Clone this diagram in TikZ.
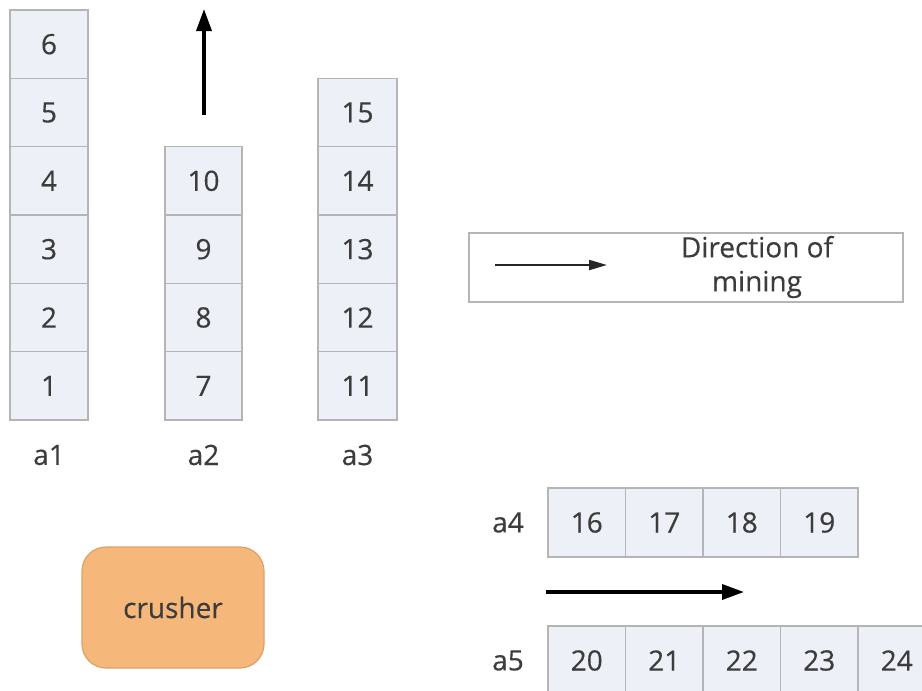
\documentclass[tikz,border=0pt]{standalone}
\usepackage{fontspec}
\setmainfont{Open Sans}[FakeBold=0.35]
\usetikzlibrary{arrows.meta}
\definecolor{cellfill}{HTML}{EEF0F7}
\definecolor{cellborder}{HTML}{B5B5B8}
\definecolor{txt}{HTML}{3C3C3C}
\definecolor{crushfill}{HTML}{F5B87A}
\definecolor{crushborder}{HTML}{DDA267}
\tikzset{
  every node/.style={font=\fontsize{28}{34}\selectfont, text=txt},
  cellv/.style={draw=cellborder, line width=1.3pt, fill=cellfill, minimum width=78pt, minimum height=68.33pt, inner sep=0pt},
  cellh/.style={draw=cellborder, line width=1.3pt, fill=cellfill, minimum width=77.5pt, minimum height=69pt, inner sep=0pt},
  lbl/.style={inner sep=0pt},
  bigarrow/.style={line width=3.5pt, -{Triangle[length=22pt,width=15pt]}, black},
  legarrow/.style={line width=2.2pt, -{Triangle[length=18pt,width=10pt]}, black!85}
}
\begin{document}
\begin{tikzpicture}[x=1pt,y=-1pt]
\useasboundingbox (0,0) rectangle (922,691);
\clip (0,0) rectangle (922,691);
% column a1
\node[cellv] (c6) at (49,44.17) {6};
\node[cellv] (c5) at (49,112.5) {5};
\node[cellv] (c4) at (49,180.83) {4};
\node[cellv] (c3) at (49,249.17) {3};
\node[cellv] (c2) at (49,317.5) {2};
\node[cellv] (c1) at (49,385.83) {1};
\node[lbl] (la1) at (49,455) {a1};
% column a2
\node[cellv, minimum width=77pt] (c10) at (203.5,180.83) {10};
\node[cellv, minimum width=77pt] (c9) at (203.5,249.17) {9};
\node[cellv, minimum width=77pt] (c8) at (203.5,317.5) {8};
\node[cellv, minimum width=77pt] (c7) at (203.5,385.83) {7};
\node[lbl] (la2) at (203.5,455) {a2};
\coordinate (upstart) at (204,115);
\coordinate (upend) at (204,9);
\draw[bigarrow] (upstart) -- (upend);
% column a3
\node[cellv, minimum width=79pt] (c15) at (357.5,112.5) {15};
\node[cellv, minimum width=79pt] (c14) at (357.5,180.83) {14};
\node[cellv, minimum width=79pt] (c13) at (357.5,249.17) {13};
\node[cellv, minimum width=79pt] (c12) at (357.5,317.5) {12};
\node[cellv, minimum width=79pt] (c11) at (357.5,385.83) {11};
\node[lbl] (la3) at (357.5,455) {a3};
% legend
\node[draw=cellborder, line width=1.3pt, minimum width=434pt, minimum height=69pt, inner sep=0pt] (legend) at (686,267.5) {};
\coordinate (legs) at (495,265);
\coordinate (lege) at (607,265);
\draw[legarrow] (legs) -- (lege);
\node[align=center, inner sep=0pt] (legtxt) at (757,267) {Direction of\\mining};
% row a4
\node[lbl] (la4) at (508,522.5) {a4};
\node[cellh] (c16) at (586.75,522.5) {16};
\node[cellh] (c17) at (664.25,522.5) {17};
\node[cellh] (c18) at (741.75,522.5) {18};
\node[cellh] (c19) at (819.25,522.5) {19};
% arrow between rows
\coordinate (hs) at (546,592);
\coordinate (he) at (744,592);
\draw[bigarrow] (hs) -- (he);
% row a5
\node[lbl] (la5) at (508,660.5) {a5};
\node[cellh] (c20) at (586.75,660.5) {20};
\node[cellh] (c21) at (664.25,660.5) {21};
\node[cellh] (c22) at (741.75,660.5) {22};
\node[cellh] (c23) at (819.25,660.5) {23};
\node[cellh] (c24) at (896.75,660.5) {24};
% crusher
\node[draw=crushborder, line width=1.2pt, fill=crushfill, rounded corners=24pt, minimum width=182pt, minimum height=121pt, inner sep=0pt] (crusher) at (173,607.5) {crusher};
\end{tikzpicture}
\end{document}
